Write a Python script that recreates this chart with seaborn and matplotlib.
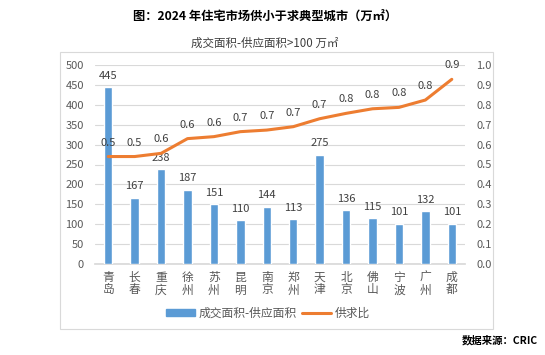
import numpy as np
import pandas as pd
import matplotlib
matplotlib.use("Agg")
import matplotlib.pyplot as plt
import seaborn as sns
from matplotlib.patches import Rectangle

# villes ou l'offre est inferieure a la demande (2024)
villes = ["青岛", "长春", "重庆", "徐州", "苏州", "昆明", "南京", "郑州",
          "天津", "北京", "佛山", "宁波", "广州", "成都"]
ecart = [445, 167, 238, 187, 151, 110, 144, 113, 275, 136, 115, 101, 132, 101]
ratio = [0.54, 0.54, 0.556, 0.63, 0.64, 0.665, 0.673, 0.69, 0.73, 0.757,
         0.78, 0.787, 0.824, 0.928]

sns.set_theme(style="white")
plt.rcParams["font.family"] = ["Noto Sans CJK SC", "DejaVu Sans"]

df = pd.DataFrame({"ville": villes, "ecart": ecart, "ratio": ratio})

fig = plt.figure(figsize=(5.45, 3.55), dpi=100)
ax = fig.add_axes([95/545, 1-264/355, 370/545, 199/355])

bleu = "#5B9BD5"
orange = "#ED7D31"
gris = "#595959"

sns.barplot(data=df, x="ville", y="ecart", color=bleu, width=0.32,
            saturation=1, ax=ax, zorder=3)
ax.set_ylim(0, 500)
ax.set_yticks(range(0, 501, 50))
ax.set_xlim(-0.5, len(villes) - 0.5)
ax.grid(axis="y", color="#D9D9D9", lw=0.8, zorder=0)
ax.set_xlabel("")
ax.set_ylabel("")
ax.set_xticks(range(len(villes)))
ax.set_xticklabels(["\n".join(v) for v in villes], fontsize=8.5, color=gris,
                   linespacing=0.95)
ax.tick_params(axis="y", labelsize=8, colors=gris, length=0, pad=8)
ax.tick_params(axis="x", length=0, pad=5)
for s in ax.spines.values():
    s.set_visible(False)
ax.spines["bottom"].set_visible(True)
ax.spines["bottom"].set_color("#D9D9D9")

for i, v in enumerate(ecart):
    ax.text(i, v + 16, str(v), ha="center", va="bottom", fontsize=8, color="#404040")

ax2 = ax.twinx()
sns.lineplot(x=np.arange(len(villes)), y=ratio, color=orange, lw=2.2, ax=ax2)
ax2.set_ylim(0, 1.0)
ax2.set_yticks(np.arange(0, 1.01, 0.1))
ax2.set_yticklabels([f"{t:.1f}" for t in np.arange(0, 1.01, 0.1)])
ax2.tick_params(axis="y", labelsize=8, colors=gris, length=0, pad=8)
for s in ax2.spines.values():
    s.set_visible(False)
for i, r in enumerate(ratio):
    ax2.text(i, r + 0.045, f"{r:.1f}", ha="center", va="bottom", fontsize=8, color="#404040")

# cadre du graphique
fig.patches.append(Rectangle((60/545, 1-329/355), 433/545, 277/355,
                             transform=fig.transFigure, fill=False,
                             edgecolor="#D9D9D9", lw=0.8))

fig.text(265/545, 1-16/355, "图：2024 年住宅市场供小于求典型城市（万㎡）",
         ha="center", va="center", fontsize=8.8, fontweight="bold", color="black")
fig.text(265/545, 1-43/355, "成交面积-供应面积>100 万㎡",
         ha="center", va="center", fontsize=8.3, color="#404040")
fig.text(538/545, 1-340/355, "数据来源：CRIC", ha="right", va="center",
         fontsize=7.5, fontweight="bold", color="black")

h1 = Rectangle((0, 0), 1, 1, color=bleu)
h2 = plt.Line2D([0], [0], color=orange, lw=2.2)
fig.legend([h1, h2], ["成交面积-供应面积", "供求比"], loc="center",
           bbox_to_anchor=(268/545, 1-313/355), ncol=2, frameon=False,
           fontsize=8.5, handlelength=2.5, handleheight=0.5, columnspacing=0.4,
           handletextpad=0.3, labelcolor=gris)

fig.savefig("out.png", dpi=100)
